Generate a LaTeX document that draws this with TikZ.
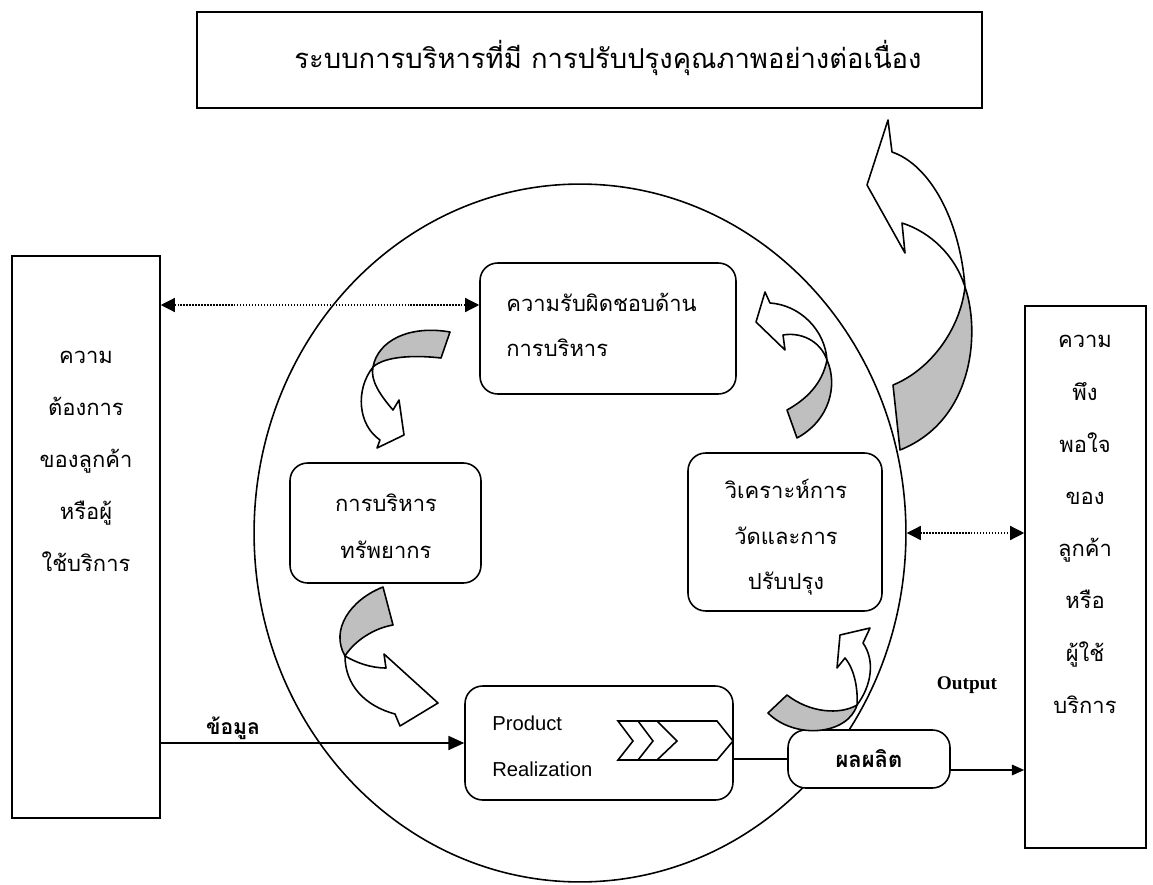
\documentclass[tikz,border=0pt]{standalone}
\usepackage{fontspec}
\setmainfont{Liberation Serif}
\newfontfamily\thai[Script=Thai]{Loma}
\newfontfamily\arialf{Liberation Sans}
\usetikzlibrary{shapes.geometric,arrows.meta,calc}
\begin{document}
\begin{tikzpicture}[x=0.02cm,y=-0.02cm,
  box/.style={draw, line width=0.9pt, fill=white, inner sep=0pt},
  rbox/.style={box, rounded corners=10pt},
  th/.style={font=\thai\fontsize{12.5}{#1}\selectfont, align=center, inner sep=0pt},
  th/.default=29.5pt,
  whitearr/.style={draw, line width=0.9pt, fill=white, line join=round},
  greyarr/.style={draw, line width=0.9pt, fill=black!25, line join=round},
  dotarr/.style={densely dotted, line width=0.7pt, arrows={Triangle[length=8pt,width=8pt]-Triangle[length=8pt,width=8pt]}},
  solarr/.style={line width=0.9pt, arrows={-Triangle[length=9pt,width=8pt]}}
]
\useasboundingbox (0,0) rectangle (1153,885);
\fill[white] (0,0) rectangle (1153,885);

% big circle
\node[draw, ellipse, line width=0.9pt, minimum width=13.04cm, minimum height=13.96cm, inner sep=0pt] (circ) at (580,533) {};

% top box
\node[box, minimum width=15.7cm, minimum height=1.92cm] (top) at (589.5,60) {};
\node[font=\thai\fontsize{15.6}{18}\selectfont, inner sep=0pt] (toptext) at (608,58) {ระบบการบริหารที่มี การปรับปรุงคุณภาพอย่างต่อเนื่อง};

% left and right boxes
\node[box, minimum width=2.96cm, minimum height=11.24cm] (lbox) at (86,537) {};
\node[th] (ltext) at (86,461.5) {ความ\\ต้องการ\\ของลูกค้า\\หรือผู้\\ใช้บริการ};
\node[box, minimum width=2.42cm, minimum height=10.84cm] (rbox) at (1085.5,577) {};
\node[th=29.7pt] (rtext) at (1085,524.5) {ความ\\พึง\\พอใจ\\ของ\\ลูกค้า\\หรือ\\ผู้ใช้\\บริการ};

% inner boxes
\node[rbox, minimum width=5.12cm, minimum height=2.62cm] (resp) at (608,328.5) {};
\node[th=25.5pt, align=left, anchor=west] (resptext) at (506,324.5) {ความรับผิดชอบด้าน\\การบริหาร};
\node[rbox, minimum width=3.82cm, minimum height=2.4cm] (res) at (385.5,523) {};
\node[th=26.6pt] (restext) at (386,526.5) {การบริหาร\\ทรัพยากร};
\node[rbox, minimum width=3.88cm, minimum height=3.16cm] (anal) at (785,532) {};
\node[th=25.8pt] (analtext) at (786,537.5) {วิเคราะห์การ\\วัดและการ\\ปรับปรุง};
\node[rbox, minimum width=5.36cm, minimum height=2.28cm] (prod) at (599,743) {};
\node[font=\arialf\fontsize{11.5}{26}\selectfont, align=left, anchor=west, inner sep=0pt] (prodtext) at (492,746) {Product\\Realization};
\node[rbox, minimum width=3.24cm, minimum height=1.16cm, font=\thai\bfseries\fontsize{12.5}{14}\selectfont] (out) at (869,759) {ผลผลิต};

% chevrons
\draw[line width=0.9pt, line join=miter] (618,721) -- (717,721) -- (733,741) -- (717,760) -- (618,760) -- (633,741) -- cycle;
\draw[line width=0.9pt] (638,721) -- (653,741) -- (638,760);
\draw[line width=0.9pt] (657,721) -- (677,741) -- (657,760);

% labels
\node[font=\thai\bfseries\fontsize{12}{14}\selectfont, inner sep=0pt] (lbl1) at (233,728) {ข้อมูล};
\node[font=\bfseries\fontsize{11}{13}\selectfont, inner sep=0pt] (lbl2) at (967,685) {Output};

% connectors
\coordinate (ta) at (300,305);
\coordinate (oy) at (1000,770);
\draw[dotarr] (lbox.east |- ta) -- (resp.west |- ta);
\draw[dotarr] (circ.east) -- (rbox.west |- circ.east);
\draw[solarr] (lbox.east |- prod.west) -- (prod.west);
\draw[line width=0.9pt] (out.west -| prod.east) -- (out.west);
\draw[line width=0.9pt, arrows={-Triangle[length=7pt,width=6pt]}] (out.east |- oy) -- (rbox.west |- oy);

% big arrow (top right)
\path[greyarr] (965,287) .. controls (980,330) and (975,420) .. (900,450) -- (893,385) .. controls (930,370) and (960,330) .. (965,287) -- cycle;
\path[whitearr] (965,287) .. controls (960,220) and (930,165) .. (892,152) -- (888,120) -- (867,185) -- (905,253) -- (902,223) .. controls (930,232) and (955,255) .. (965,287) -- cycle;

% arrow A (towards responsibility box)
\path[greyarr] (827,360) .. controls (838,385) and (830,420) .. (797,438) -- (787,410) .. controls (805,400) and (822,385) .. (827,360) -- cycle;
\path[whitearr] (827,360) .. controls (825,330) and (800,305) .. (770,303) -- (765,292) -- (756,322) -- (785,350) -- (783,335) .. controls (800,332) and (820,340) .. (827,360) -- cycle;

% arrow B (towards resource box)
\path[greyarr] (373,367) .. controls (378,340) and (410,325) .. (450,332) -- (441,358) .. controls (415,355) and (385,356) .. (373,367) -- cycle;
\path[whitearr] (373,367) .. controls (355,390) and (358,425) .. (380,440) -- (377,448) -- (404,435) -- (399,400) -- (393,410) .. controls (380,395) and (370,380) .. (373,367) -- cycle;

% arrow C (towards product realization)
\path[greyarr] (383,587) .. controls (350,600) and (330,630) .. (345,656) .. controls (355,640) and (375,628) .. (393,625) -- cycle;
\path[whitearr] (345,656) .. controls (345,685) and (365,706) .. (395,714) -- (400,726) -- (438,703) -- (384,654) -- (386,668) .. controls (370,668) and (355,662) .. (345,656) -- cycle;

% arrow D (towards analysis box)
\path[greyarr] (787,695) .. controls (810,713) and (840,715) .. (857,705) .. controls (848,735) and (795,740) .. (768,713) -- cycle;
\path[whitearr] (857,705) .. controls (872,685) and (875,660) .. (863,643) -- (870,628) -- (840,635) -- (837,668) -- (845,658) .. controls (855,670) and (858,690) .. (857,705) -- cycle;
\end{tikzpicture}
\end{document}
